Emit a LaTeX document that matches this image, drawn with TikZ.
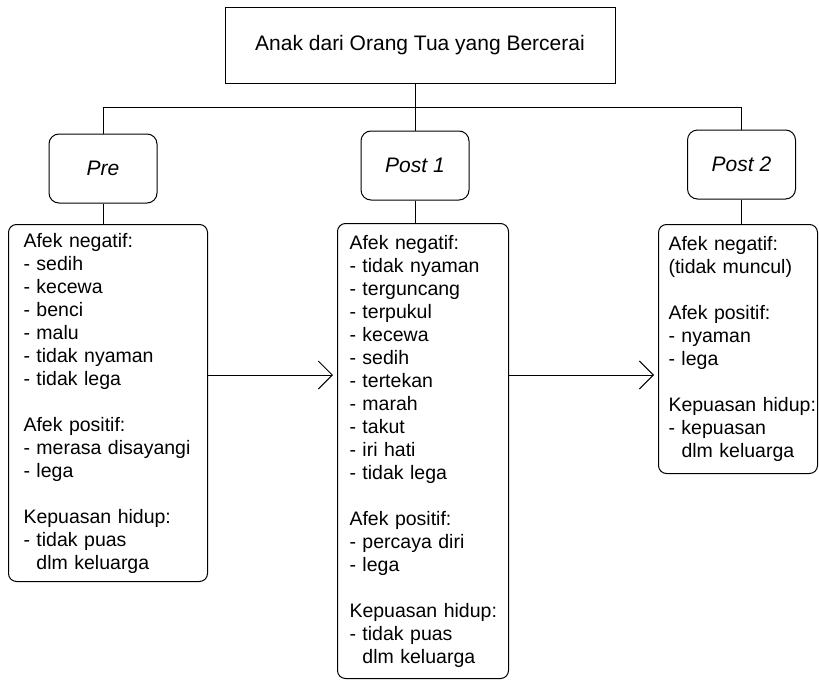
\documentclass[tikz,border=0pt]{standalone}
\usepackage{fontspec}
\setmainfont{Liberation Sans}
\usetikzlibrary{arrows.meta}
\hyphenpenalty=10000
\exhyphenpenalty=10000
\begin{document}
\begin{tikzpicture}[x=1pt,y=-1pt,
  every node/.style={font=\fontsize{19.5}{23}\selectfont, line width=1pt},
  titlebox/.style={draw, minimum width=390pt, minimum height=76pt, inner sep=0pt, font=\fontsize{21}{25}\selectfont},
  phase/.style={draw, rounded corners=10pt, minimum width=108pt, minimum height=69pt, inner sep=0pt, font=\fontsize{21}{25}\selectfont\itshape},
  listbox/.style={draw, rounded corners=8pt, align=left, inner ysep=0pt, anchor=north west},
  link/.style={line width=1pt},
  arr/.style={line width=1pt, -{Straight Barb[length=14pt,width=28pt]}, shorten >=4pt}
]
\useasboundingbox (0,0) rectangle (819,680);

\node[titlebox] (top) at (420,45) {Anak dari Orang Tua yang Bercerai};

\node[phase] (pre) at (103,168.5) {Pre};
\node[phase] (post1) at (415,165.5) {Post 1};
\node[phase] (post2) at (741.5,164.5) {Post 2};

\node[listbox, minimum width=199pt, minimum height=357pt, inner xsep=15pt, text width=169pt] (prelist) at (8,224)
 {Afek~negatif:\\
  -~sedih\\
  -~kecewa\\
  -~benci\\
  -~malu\\
  -~tidak~nyaman\\
  -~tidak~lega\\[23pt]
  Afek~positif:\\
  -~merasa~disayangi\\
  -~lega\\[23pt]
  Kepuasan~hidup:\\
  -~tidak~puas\\
  \hphantom{-~}dlm~keluarga};

\node[listbox, minimum width=171pt, minimum height=455pt, inner xsep=12pt, text width=147pt] (post1list) at (337,223)
 {Afek~negatif:\\
  -~tidak~nyaman\\
  -~terguncang\\
  -~terpukul\\
  -~kecewa\\
  -~sedih\\
  -~tertekan\\
  -~marah\\
  -~takut\\
  -~iri~hati\\
  -~tidak~lega\\[23pt]
  Afek~positif:\\
  -~percaya~diri\\
  -~lega\\[23pt]
  Kepuasan~hidup:\\
  -~tidak~puas\\
  \hphantom{-~}dlm~keluarga};

\node[listbox, minimum width=159pt, minimum height=249pt, inner xsep=10pt, text width=139pt] (post2list) at (658,224)
 {Afek~negatif:\\
  (tidak~muncul)\\[23pt]
  Afek~positif:\\
  -~nyaman\\
  -~lega\\[23pt]
  Kepuasan~hidup:\\
  -~kepuasan\\
  \hphantom{-~}dlm~keluarga};

\coordinate (bus) at (415,107);
\coordinate (ay) at (0,375);

\draw[link] (post1.north |- top.south) -- (post1.north);
\draw[link] (pre.north) -- (pre.north |- bus) -- (post2.north |- bus) -- (post2.north);
\draw[link] (pre.south) -- (pre.south |- prelist.north);
\draw[link] (post1.south) -- (post1.south |- post1list.north);
\draw[link] (post2.south) -- (post2.south |- post2list.north);

\draw[arr] (prelist.east |- ay) -- (post1list.west |- ay);
\draw[arr] (post1list.east |- ay) -- (post2list.west |- ay);
\end{tikzpicture}
\end{document}
